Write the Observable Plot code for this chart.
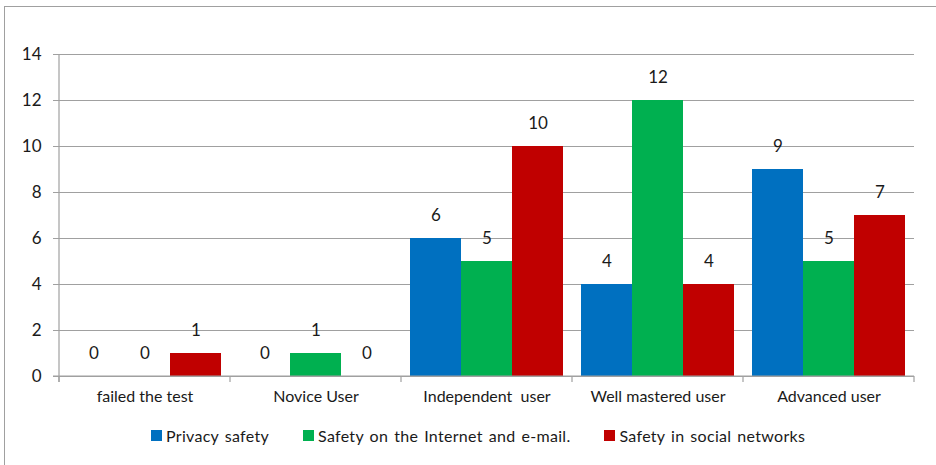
<!DOCTYPE html>
<html>
<head>
<meta charset="utf-8">
<script src="https://cdn.jsdelivr.net/npm/d3@7"></script>
<script src="https://cdn.jsdelivr.net/npm/@observablehq/plot@0.6"></script>
<style>
  html, body { margin: 0; padding: 0; background: #fff; }
  body { width: 936px; height: 465px; position: relative; overflow: hidden; font-family: Lato, "Open Sans", sans-serif; }
  #frame { position: absolute; left: 4px; top: 6px; width: 960px; height: 480px; border-left: 1.5px solid #a0a0a0; border-top: 1.5px solid #a0a0a0; pointer-events: none; }
  #chart { position: absolute; left: 0; top: 0; }
  #legend { position: absolute; left: 151px; top: 426px; }
  #legend .lg-swatches { min-height: 0 !important; margin: 0 !important; font-family: Lato, sans-serif !important; font-size: 16px !important; color: #1a1a1a !important; letter-spacing: 0.3px; word-spacing: 1.6px; }
  #legend .lg-swatch { margin-right: 34px !important; }
  #legend .lg-swatch svg { margin-right: 4px !important; }
</style>
</head>
<body>
<div id="chart"></div>
<div id="legend"></div>
<div id="frame"></div>
<script>
const categories = ["failed the test", "Novice User", "Independent  user", "Well mastered user", "Advanced user"];
const series = ["Privacy safety", "Safety on the Internet and e-mail.", "Safety in social networks"];
const privacySafety = [0, 0, 6, 4, 9];
const internetSafety = [0, 1, 5, 12, 5];
const socialSafety = [1, 0, 10, 4, 7];
const yTicks = [0, 2, 4, 6, 8, 10, 12, 14];
const colors = ["#0070C0", "#00B050", "#C00000"];

const seriesValues = [privacySafety, internetSafety, socialSafety];
const data = [];
categories.forEach((c, i) => {
  series.forEach((s, j) => data.push({category: c, series: s, value: seriesValues[j][i]}));
});

const chart = Plot.plot({
  width: 936,
  height: 410,
  marginLeft: 58,
  marginRight: 21,
  marginTop: 54,
  marginBottom: 34,
  style: {fontFamily: "Lato, sans-serif", background: "transparent"},
  fx: {domain: categories, padding: 0, label: null},
  x: {domain: series, paddingInner: 0, paddingOuter: 0.164, axis: null},
  y: {domain: [0, 14], axis: null},
  color: {domain: series, range: colors},
  marks: [
    Plot.ruleY(yTicks, {stroke: "#a0a0a0", strokeWidth: 1.2}),
    Plot.barY(data, {fx: "category", x: "series", y: "value", fill: "series"}),
    Plot.text(data, {fx: "category", x: "series", y: "value", text: d => String(d.value), dy: -23, fontSize: 17, fill: "#1a1a1a", lineAnchor: "middle"}),
    Plot.axisY({ticks: yTicks, tickSize: 6, tickPadding: 12, fontSize: 17, stroke: "#a0a0a0", color: "#1a1a1a", label: null}),
    Plot.axisFx({anchor: "bottom", tickSize: 0, tickPadding: 14, fontSize: 16, color: "#1a1a1a", label: null, style: {letterSpacing: "0.3px"}})
  ]
});

// category boundary ticks and vertical axis line from the library's scales
const fx = chart.scale("fx");
const y = chart.scale("y");
const y0 = y.apply(0), yTop = y.apply(14);
const bounds = categories.map(c => fx.apply(c));
bounds.push(fx.apply(categories[categories.length - 1]) + fx.bandwidth);
const g = d3.select(chart).append("g").attr("stroke", "#a0a0a0").attr("stroke-width", 1.2);
g.append("line").attr("x1", bounds[0]).attr("x2", bounds[0]).attr("y1", yTop).attr("y2", y0 + 6);
bounds.forEach(b => g.append("line").attr("x1", b).attr("x2", b).attr("y1", y0).attr("y2", y0 + 6));
g.append("line").attr("x1", bounds[0] - 6).attr("x2", bounds[bounds.length - 1]).attr("y1", y0).attr("y2", y0);

document.getElementById("chart").append(chart);

const legend = chart.legend("color", {legend: "swatches", swatchSize: 11, className: "lg"});
document.getElementById("legend").append(legend);
</script>
</body>
</html>
